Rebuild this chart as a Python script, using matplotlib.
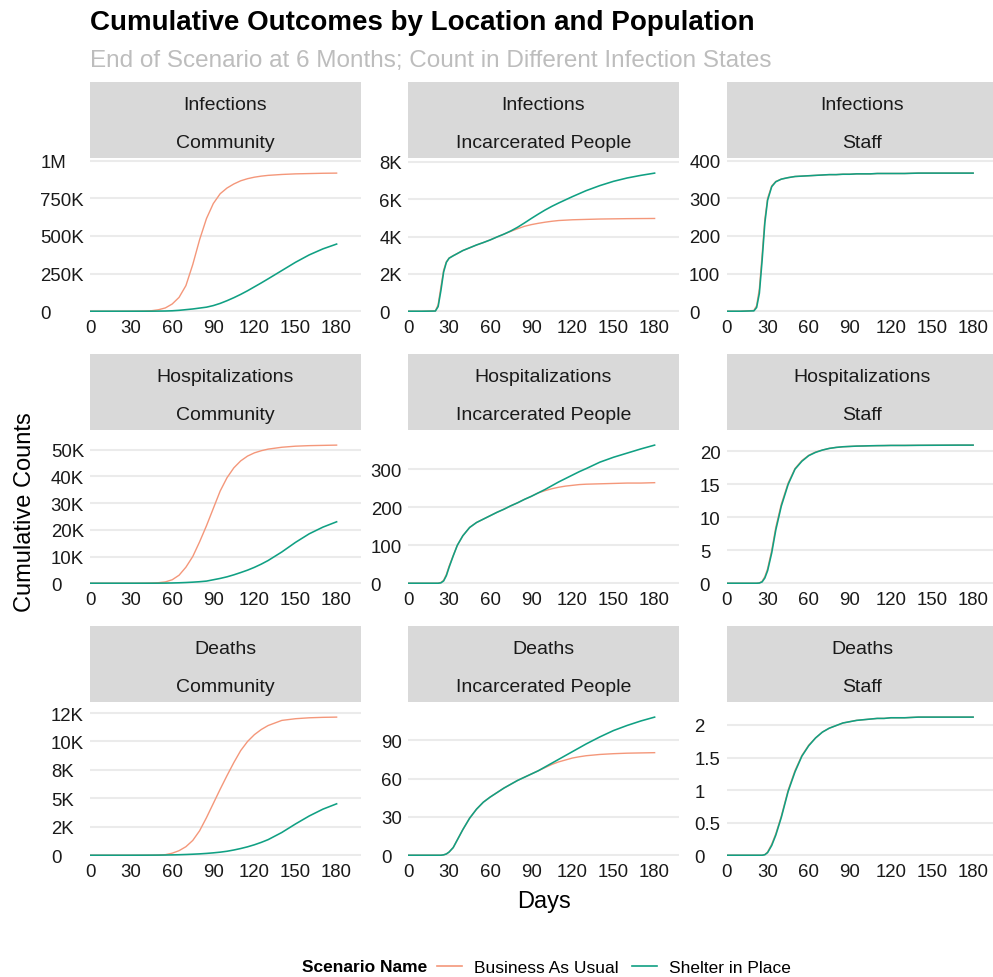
import matplotlib
matplotlib.use("Agg")
import matplotlib.pyplot as plt
from matplotlib.lines import Line2D

plt.rcParams['font.family'] = ['Liberation Sans', 'DejaVu Sans']

# ---------------- data ----------------
days = [0, 10, 20, 22, 24, 26, 28, 30, 33, 36, 40, 45, 50, 55, 60, 65, 70, 75, 80,
        85, 90, 95, 100, 105, 110, 115, 120, 125, 130, 140, 150, 160, 170, 180]

scenarios = ['Business As Usual', 'Shelter in Place']
metrics = ['Infections', 'Hospitalizations', 'Deaths']
locations = ['Community', 'Incarcerated People', 'Staff']

inf_comm_bau = [0, 0, 50, 70, 100, 150, 200, 300, 500, 800, 1500, 3500, 10000, 22000, 48000,
                92000, 170000, 310000, 475000, 615000, 715000, 780000, 818000, 845000, 866000,
                880000, 890000, 897000, 902000, 908000, 912000, 914000, 916000, 917000]
inf_comm_sip = [0, 0, 30, 40, 50, 70, 90, 110, 150, 200, 300, 500, 900, 1500, 3000, 6000,
                10500, 15000, 21000, 27000, 37500, 52000, 70000, 90000, 112000, 136000, 162000,
                188000, 215000, 270000, 325000, 374000, 414000, 446000]

inf_inc_bau = [0, 0, 20, 350, 1300, 2200, 2650, 2850, 2980, 3090, 3250, 3400, 3550, 3680, 3820,
               3980, 4130, 4280, 4420, 4550, 4640, 4710, 4770, 4820, 4860, 4880, 4900, 4910,
               4920, 4940, 4950, 4960, 4965, 4970]
inf_inc_sip = [0, 0, 10, 250, 1100, 2100, 2620, 2840, 2970, 3090, 3250, 3400, 3550, 3680, 3820,
               3980, 4130, 4300, 4500, 4730, 4970, 5200, 5420, 5620, 5800, 5970, 6140, 6300,
               6460, 6730, 6960, 7140, 7280, 7400]

inf_staff_bau = [0, 0, 2, 15, 60, 150, 245, 300, 333, 345, 351, 355, 358, 359, 360, 361, 362, 363,
                 363, 364, 364, 365, 365, 365, 366, 366, 366, 366, 366, 367, 367, 367, 367, 367]
inf_staff_sip = [0, 0, 1, 10, 48, 135, 235, 295, 331, 344, 351, 355, 358, 359, 360, 361, 362, 363,
                 363, 364, 364, 365, 365, 365, 366, 366, 366, 366, 366, 367, 367, 367, 367, 367]

hosp_comm_bau = [0, 0, 0, 0, 0, 0, 0, 5, 10, 15, 30, 80, 200, 500, 1300, 3000, 6000, 10000, 15500,
                 21500, 28000, 34500, 39500, 43200, 45800, 47600, 48800, 49600, 50200, 50900,
                 51300, 51500, 51600, 51700]
hosp_comm_sip = [0, 0, 0, 0, 0, 0, 0, 1, 2, 4, 8, 15, 30, 55, 100, 170, 270, 400, 570, 800, 1300,
                 1800, 2400, 3150, 4000, 4900, 5950, 7150, 8500, 11700, 15300, 18500, 21000, 23000]

hosp_inc_bau = [0, 0, 0, 0, 2, 8, 23, 45, 73, 100, 125, 147, 160, 169, 178, 187, 195, 204, 212,
                221, 229, 238, 244, 249, 253, 256, 258, 260, 261, 262, 263, 264, 264, 265]
hosp_inc_sip = [0, 0, 0, 0, 1, 6, 20, 42, 72, 100, 125, 147, 160, 169, 178, 187, 195, 204, 212,
                221, 229, 238, 247, 257, 267, 276, 285, 294, 302, 319, 332, 343, 354, 364]

hosp_staff_bau = [0, 0, 0, 0, 0.05, 0.3, 1, 2.2, 5, 8.5, 12, 15.2, 17.4, 18.6, 19.4, 19.9, 20.2,
                  20.45, 20.6, 20.7, 20.75, 20.8, 20.82, 20.85, 20.87, 20.88, 20.9, 20.9, 20.9,
                  20.92, 20.93, 20.94, 20.95, 20.95]
hosp_staff_sip = [0, 0, 0, 0, 0.03, 0.2, 0.8, 1.9, 4.6, 8.1, 11.7, 15.0, 17.3, 18.5, 19.35, 19.85,
                  20.2, 20.45, 20.6, 20.7, 20.75, 20.8, 20.82, 20.85, 20.87, 20.88, 20.9, 20.9,
                  20.9, 20.92, 20.93, 20.94, 20.95, 20.95]

deaths_comm_bau = [0, 0, 0, 0, 0, 0, 0, 0, 1, 1, 2, 5, 15, 50, 180, 400, 750, 1300, 2150, 3300,
                   4550, 5800, 7000, 8150, 9200, 10000, 10600, 11050, 11400, 11850, 12000, 12080,
                   12120, 12140]
deaths_comm_sip = [0, 0, 0, 0, 0, 0, 0, 1, 2, 3, 5, 8, 12, 20, 30, 45, 65, 90, 120, 160, 210, 270,
                   350, 460, 590, 740, 920, 1130, 1370, 2000, 2750, 3450, 4050, 4520]

deaths_inc_bau = [0, 0, 0, 0, 0, 0.3, 1, 2.5, 6, 12, 20, 29, 36, 41.5, 45.5, 49, 52.5, 55.5, 58.5,
                  61, 63.5, 66, 68.5, 71, 73, 74.5, 76, 77, 77.8, 78.8, 79.4, 79.8, 80, 80.2]
deaths_inc_sip = [0, 0, 0, 0, 0, 0.3, 1, 2.5, 6, 12, 20, 29, 36, 41.5, 45.5, 49, 52.5, 55.5, 58.5,
                  61, 63.5, 66, 69, 72, 75, 78, 81, 84, 87, 92.5, 97.5, 101.5, 105, 108]

deaths_staff_bau = [0, 0, 0, 0, 0, 0, 0.01, 0.05, 0.17, 0.33, 0.6, 1.0, 1.3, 1.53, 1.69, 1.8, 1.89,
                    1.95, 1.99, 2.03, 2.05, 2.07, 2.08, 2.09, 2.1, 2.1, 2.11, 2.11, 2.11, 2.12,
                    2.12, 2.12, 2.12, 2.12]
deaths_staff_sip = [0, 0, 0, 0, 0, 0, 0.008, 0.04, 0.15, 0.31, 0.58, 0.98, 1.28, 1.52, 1.68, 1.8,
                    1.89, 1.95, 1.99, 2.03, 2.05, 2.07, 2.08, 2.09, 2.1, 2.1, 2.11, 2.11, 2.11,
                    2.12, 2.12, 2.12, 2.12, 2.12]

x_ticks = [0, 30, 60, 90, 120, 150, 180]

y_ticks = {
    ('Infections', 'Community'): ([0, 250000, 500000, 750000, 1000000], ['0', '250K', '500K', '750K', '1M']),
    ('Infections', 'Incarcerated People'): ([0, 2000, 4000, 6000, 8000], ['0', '2K', '4K', '6K', '8K']),
    ('Infections', 'Staff'): ([0, 100, 200, 300, 400], ['0', '100', '200', '300', '400']),
    ('Hospitalizations', 'Community'): ([0, 10000, 20000, 30000, 40000, 50000], ['0', '10K', '20K', '30K', '40K', '50K']),
    ('Hospitalizations', 'Incarcerated People'): ([0, 100, 200, 300], ['0', '100', '200', '300']),
    ('Hospitalizations', 'Staff'): ([0, 5, 10, 15, 20], ['0', '5', '10', '15', '20']),
    ('Deaths', 'Community'): ([0, 2500, 5000, 7500, 10000, 12500], ['0', '2K', '5K', '8K', '10K', '12K']),
    ('Deaths', 'Incarcerated People'): ([0, 30, 60, 90], ['0', '30', '60', '90']),
    ('Deaths', 'Staff'): ([0, 0.5, 1, 1.5, 2], ['0', '0.5', '1', '1.5', '2']),
}

series = {
    ('Infections', 'Community'): (inf_comm_bau, inf_comm_sip),
    ('Infections', 'Incarcerated People'): (inf_inc_bau, inf_inc_sip),
    ('Infections', 'Staff'): (inf_staff_bau, inf_staff_sip),
    ('Hospitalizations', 'Community'): (hosp_comm_bau, hosp_comm_sip),
    ('Hospitalizations', 'Incarcerated People'): (hosp_inc_bau, hosp_inc_sip),
    ('Hospitalizations', 'Staff'): (hosp_staff_bau, hosp_staff_sip),
    ('Deaths', 'Community'): (deaths_comm_bau, deaths_comm_sip),
    ('Deaths', 'Incarcerated People'): (deaths_inc_bau, deaths_inc_sip),
    ('Deaths', 'Staff'): (deaths_staff_bau, deaths_staff_sip),
}

colors = ['#F4977A', '#10A083']

# ---------------- layout (pixels) ----------------
W, H = 993, 978
fig = plt.figure(figsize=(W / 100, H / 100), dpi=100)
fig.patch.set_facecolor('white')


def rect(left, top, width, height):
    return [left / W, 1 - (top + height) / H, width / W, height / H]


col_left = [90, 408, 726.5]
panel_w = 271
strip_top = [83.3, 355.3, 627.3]
strip_h = 76
panel_gap = 1
panel_h = 153

TXT = '#1A1A1A'
tick_fs = 13.4
axes = []
for r, metric in enumerate(metrics):
    for c, loc in enumerate(locations):
        left = col_left[c]
        st = strip_top[r]
        sax = fig.add_axes(rect(left, st, panel_w, strip_h))
        sax.set_facecolor('#D9D9D9')
        sax.set_xticks([])
        sax.set_yticks([])
        for s in sax.spines.values():
            s.set_visible(False)
        sax.text(0.5, 0.649, metric, ha='center', va='baseline', fontsize=14, color=TXT,
                 transform=sax.transAxes)
        sax.text(0.5, 0.145, loc, ha='center', va='baseline', fontsize=14, color=TXT,
                 transform=sax.transAxes)

        ax = fig.add_axes(rect(left, st + strip_h + panel_gap, panel_w, panel_h))
        bau, sip = series[(metric, loc)]
        ax.plot(days, bau, color=colors[0], lw=1.0, solid_joinstyle='round')
        ax.plot(days, sip, color=colors[1], lw=1.15, solid_joinstyle='round')
        top = 1.1 * max(max(bau), max(sip))
        ax.set_ylim(-0.007 * top, top)
        ax.set_xlim(0, 197.8)
        yv, yl = y_ticks[(metric, loc)]
        ax.set_yticks(yv, yl)
        ax.set_xticks(x_ticks, [str(v) for v in x_ticks])
        ax.tick_params(axis='both', length=0, labelsize=tick_fs, labelcolor=TXT)
        ax.tick_params(axis='x', pad=4.5)
        for s in ax.spines.values():
            s.set_visible(False)
        ax.set_axisbelow(True)
        ax.yaxis.grid(True, color='#EBEBEB', lw=1.5)
        ax.xaxis.grid(False)
        ax.set_facecolor('white')
        axes.append(ax)

# left-aligned y tick labels, block ending ~6px from panel
fig.canvas.draw()
rend = fig.canvas.get_renderer()
for ax in axes:
    labs = ax.get_yticklabels()
    w = max(l.get_window_extent(rend).width for l in labs)
    ax.tick_params(axis='y', pad=(6 + w) * 72 / 100)
    for l in ax.get_yticklabels():
        l.set_horizontalalignment('left')

# titles
fig.text(90 / W, 1 - 30 / H, 'Cumulative Outcomes by Location and Population', ha='left',
         va='baseline', fontsize=20, fontweight='bold', color='black')
fig.text(90 / W, 1 - 66.7 / H, 'End of Scenario at 6 Months; Count in Different Infection States',
         ha='left', va='baseline', fontsize=17.5, color='#BDBDBD')

fig.text(25 / W, 1 - 512 / H, 'Cumulative Counts', rotation=90, ha='center', va='center',
         fontsize=17, color='black')
fig.text(544 / W, 1 - 902 / H, 'Days', ha='center', va='center', fontsize=17, color='black')

# legend
fig.text(427 / W, 1 - 968 / H, 'Scenario Name', ha='right', va='center', fontsize=12.5,
         fontweight='bold', color='black')
handles = [Line2D([], [], color=colors[0], lw=1.2), Line2D([], [], color=colors[1], lw=1.2)]
fs_px = 12.5 * 100 / 72
fig.legend(handles, scenarios, loc='center left', bbox_to_anchor=(437 / W, 1 - 968 / H),
           ncol=2, frameon=False, fontsize=12.5, handlelength=25 / fs_px,
           handletextpad=12 / fs_px, columnspacing=13 / fs_px, borderpad=0, borderaxespad=0)

fig.savefig('out.png', dpi=100, facecolor='white')
